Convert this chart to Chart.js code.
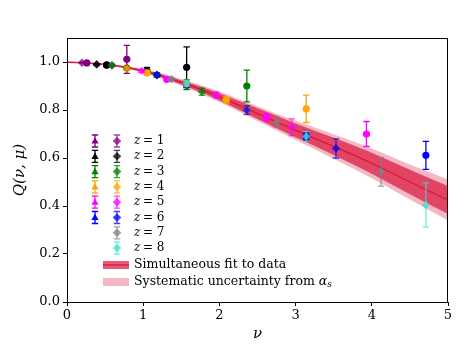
<!DOCTYPE html>
<html>
<head>
<meta charset="utf-8">
<script src="https://cdn.jsdelivr.net/npm/chart.js@4.4.1/dist/chart.umd.min.js"></script>
<style>
  html, body { margin: 0; padding: 0; background: #fff; }
  #wrap { width: 471px; height: 353px; }
</style>
</head>
<body>
<div id="wrap"><canvas id="chart" width="471" height="353"></canvas></div>
<script>
// z separations and their colours
var zValues = [1, 2, 3, 4, 5, 6, 7, 8];
var zColours = ['#800080', '#000000', '#008000', '#FFA500', '#FF00FF', '#0000FF', '#808080', '#40E0D0'];

// first ensemble (circles, triangles in legend), z = 1..6
var nuA = [
	[0.26, 0.52, 0.785],
	[0.52, 1.05, 1.57],
	[0.785, 1.57, 2.36],
	[1.05, 2.09, 3.14],
	[1.31, 2.62, 3.93],
	[1.57, 3.14, 4.71]
];
var qA = [
	[0.996, 0.988, 1.011],
	[0.987, 0.962, 0.978],
	[0.975, 0.905, 0.900],
	[0.955, 0.842, 0.805],
	[0.928, 0.770, 0.700],
	[0.905, 0.690, 0.611]
];
var errA = [
	[0.003, 0.005, 0.058],
	[0.004, 0.015, 0.085],
	[0.006, 0.020, 0.066],
	[0.010, 0.012, 0.057],
	[0.008, 0.015, 0.052],
	[0.010, 0.015, 0.058]
];

// second ensemble (diamonds), z = 1..8
var nuB = [
	[0.196, 0.39, 0.59],
	[0.39, 0.785, 1.18],
	[0.59, 1.18, 1.77],
	[0.785, 1.57, 2.36],
	[0.98, 1.96, 2.95],
	[1.18, 2.36, 3.53],
	[1.37, 2.75, 4.12],
	[1.57, 3.14, 4.71]
];
var qB = [
	[0.997, 0.990, 0.985],
	[0.990, 0.975, 0.946],
	[0.987, 0.947, 0.876],
	[0.974, 0.910, 0.800],
	[0.963, 0.862, 0.728],
	[0.946, 0.800, 0.640],
	[0.928, 0.749, 0.543],
	[0.911, 0.690, 0.404]
];
var errB = [
	[0.002, 0.003, 0.004],
	[0.003, 0.005, 0.008],
	[0.004, 0.008, 0.015],
	[0.006, 0.012, 0.020],
	[0.006, 0.012, 0.035],
	[0.008, 0.018, 0.040],
	[0.008, 0.020, 0.060],
	[0.010, 0.020, 0.092]
];

// fit and bands
var fitNu = [0, 0.5, 1, 1.5, 2, 2.5, 3, 3.5, 4, 4.5, 5];
var fitQ = [1.0, 0.990, 0.963, 0.915, 0.855, 0.785, 0.715, 0.648, 0.578, 0.500, 0.425];
var statHi = [1.0, 0.992, 0.968, 0.924, 0.870, 0.807, 0.744, 0.684, 0.622, 0.551, 0.483];
var statLo = [1.0, 0.988, 0.958, 0.906, 0.840, 0.763, 0.686, 0.612, 0.534, 0.449, 0.367];
var sysHi = [1.0, 0.993, 0.971, 0.929, 0.877, 0.816, 0.755, 0.699, 0.640, 0.573, 0.510];
var sysLo = [1.0, 0.987, 0.955, 0.901, 0.833, 0.754, 0.675, 0.597, 0.516, 0.427, 0.340];

var xTicks = [0, 1, 2, 3, 4, 5];
var yTicks = [0.0, 0.2, 0.4, 0.6, 0.8, 1.0];

var fitColour = '#DC143C';
var statFill = 'rgba(220,20,60,0.7)';
var sysFill = 'rgba(220,20,60,0.3)';
var serif = "'DejaVu Serif', serif";

var withAlpha = function(hex, a) {
	var r = parseInt(hex.substr(1, 2), 16), g = parseInt(hex.substr(3, 2), 16), b = parseInt(hex.substr(5, 2), 16);
	return 'rgba(' + r + ',' + g + ',' + b + ',' + a + ')';
};

var toPoints = function(xs, ys) {
	return xs.map(function(x, i) { return {x: x, y: ys[i]}; });
};

var datasets = [];

// diamonds on top, larger z above smaller z
for (var i = 0; i < nuB.length; i++) {
	datasets.push({
		label: 'B z=' + zValues[i],
		data: toPoints(nuB[i], qB[i]),
		errs: errB[i],
		barColour: withAlpha(zColours[i], 0.75),
		showLine: false,
		pointStyle: 'rectRot',
		pointRadius: 4.2,
		backgroundColor: withAlpha(zColours[i], 0.75),
		borderColor: withAlpha(zColours[i], 0.75),
		borderWidth: 0,
		order: 20 - zValues[i]
	});
}
for (var i = 0; i < nuA.length; i++) {
	datasets.push({
		label: 'A z=' + zValues[i],
		data: toPoints(nuA[i], qA[i]),
		errs: errA[i],
		barColour: zColours[i],
		showLine: false,
		pointStyle: 'circle',
		pointRadius: 3.6,
		backgroundColor: zColours[i],
		borderColor: zColours[i],
		borderWidth: 0,
		order: 30 - zValues[i]
	});
}
var base = datasets.length;
datasets.push({
	label: 'fit', data: toPoints(fitNu, fitQ), showLine: true, pointRadius: 0,
	borderColor: fitColour, borderWidth: 1.3, cubicInterpolationMode: 'monotone', fill: false, order: 40
});
datasets.push({
	label: 'statHi', data: toPoints(fitNu, statHi), showLine: true, pointRadius: 0, borderWidth: 0,
	borderColor: 'rgba(0,0,0,0)', backgroundColor: statFill, cubicInterpolationMode: 'monotone',
	fill: base + 2, order: 50
});
datasets.push({
	label: 'statLo', data: toPoints(fitNu, statLo), showLine: true, pointRadius: 0, borderWidth: 0,
	borderColor: 'rgba(0,0,0,0)', cubicInterpolationMode: 'monotone', fill: false, order: 51
});
datasets.push({
	label: 'sysHi', data: toPoints(fitNu, sysHi), showLine: true, pointRadius: 0, borderWidth: 0,
	borderColor: 'rgba(0,0,0,0)', backgroundColor: sysFill, cubicInterpolationMode: 'monotone',
	fill: base + 4, order: 60
});
datasets.push({
	label: 'sysLo', data: toPoints(fitNu, sysLo), showLine: true, pointRadius: 0, borderWidth: 0,
	borderColor: 'rgba(0,0,0,0)', cubicInterpolationMode: 'monotone', fill: false, order: 61
});

var drawErrBar = function(ctx, x, yTop, yBot, colour, cap) {
	ctx.strokeStyle = colour;
	ctx.lineWidth = 1.3;
	ctx.beginPath();
	ctx.moveTo(x, yTop); ctx.lineTo(x, yBot);
	ctx.moveTo(x - cap, yTop); ctx.lineTo(x + cap, yTop);
	ctx.moveTo(x - cap, yBot); ctx.lineTo(x + cap, yBot);
	ctx.stroke();
};

// error bars drawn just before each marker set
var errorBars = {
	id: 'errorBars',
	beforeDatasetDraw: function(chart, args) {
		var ds = chart.data.datasets[args.index];
		if (!ds.errs) return;
		var ctx = chart.ctx, xs = chart.scales.x, ys = chart.scales.y;
		ctx.save();
		ds.data.forEach(function(p, k) {
			var px = xs.getPixelForValue(p.x);
			drawErrBar(ctx, px, ys.getPixelForValue(p.y + ds.errs[k]), ys.getPixelForValue(p.y - ds.errs[k]), ds.barColour, 3.2);
		});
		ctx.restore();
	}
};

// frame, legend
var decorations = {
	id: 'decorations',
	afterDraw: function(chart) {
		var ctx = chart.ctx, a = chart.chartArea;
		ctx.save();
		ctx.strokeStyle = '#000';
		ctx.lineWidth = 1;
		ctx.strokeRect(a.left + 0.5, a.top + 0.5, a.right - a.left - 1, a.bottom - a.top);

		var rowY = 141, step = 15.3;
		for (var i = 0; i < zValues.length; i++) {
			var y = rowY + i * step;
			if (i < nuA.length) {
				drawErrBar(ctx, 95, y - 6, y + 6, zColours[i], 3.2);
				ctx.fillStyle = zColours[i];
				ctx.beginPath();
				ctx.moveTo(95, y - 3.8); ctx.lineTo(98.6, y + 2.6); ctx.lineTo(91.4, y + 2.6);
				ctx.closePath(); ctx.fill();
			}
			var c = withAlpha(zColours[i], 0.75);
			drawErrBar(ctx, 117, y - 6, y + 6, c, 3.2);
			ctx.fillStyle = c;
			ctx.beginPath();
			ctx.moveTo(117, y - 4.3); ctx.lineTo(121.3, y); ctx.lineTo(117, y + 4.3); ctx.lineTo(112.7, y);
			ctx.closePath(); ctx.fill();

			ctx.fillStyle = '#000';
			ctx.textBaseline = 'middle';
			ctx.font = 'italic 12px ' + serif;
			ctx.fillText('z', 134, y);
			ctx.font = '12px ' + serif;
			ctx.fillText('= ' + zValues[i], 143, y);
		}

		// band entries
		ctx.fillStyle = statFill;
		ctx.fillRect(103, 261, 26, 8);
		ctx.strokeStyle = fitColour; ctx.lineWidth = 1.3;
		ctx.beginPath(); ctx.moveTo(103, 265); ctx.lineTo(129, 265); ctx.stroke();
		ctx.fillStyle = sysFill;
		ctx.fillRect(103, 278, 26, 8);
		ctx.fillStyle = '#000';
		ctx.font = '12.5px ' + serif;
		ctx.textBaseline = 'middle';
		ctx.fillText('Simultaneous fit to data', 134, 265);
		var t = 'Systematic uncertainty from ';
		ctx.fillText(t, 134, 282);
		var w = ctx.measureText(t).width;
		ctx.font = 'italic 12.5px ' + serif;
		ctx.fillText('\u03B1', 134 + w, 282);
		var w2 = ctx.measureText('\u03B1').width;
		ctx.font = 'italic 9px ' + serif;
		ctx.fillText('s', 134 + w + w2, 285);
		ctx.restore();
	}
};

var ctx = document.getElementById('chart').getContext('2d');
window.qChart = new Chart(ctx, {
	type: 'scatter',
	data: { datasets: datasets },
	options: {
		responsive: false,
		animation: false,
		events: [],
		layout: { padding: { top: 38, right: 23, left: 0, bottom: 6 } },
		plugins: {
			legend: { display: false },
			tooltip: { enabled: false }
		},
		scales: {
			x: {
				type: 'linear', min: 0, max: 5,
				afterFit: function(s) { s.height = 45; },
				afterBuildTicks: function(s) { s.ticks = xTicks.map(function(v) { return {value: v}; }); },
				border: { display: false },
				grid: { drawOnChartArea: false, drawTicks: true, tickLength: 4, color: '#000' },
				ticks: { color: '#000', font: { family: serif, size: 13 }, padding: 2, maxRotation: 0,
					callback: function(v) { return v.toString(); } },
				title: { display: true, text: '\u03BD', color: '#000', font: { family: serif, size: 15, style: 'italic' }, padding: { top: 0 } }
			},
			y: {
				type: 'linear', min: 0, max: 1.1,
				afterFit: function(s) { s.width = 67; },
				afterBuildTicks: function(s) { s.ticks = yTicks.map(function(v) { return {value: v}; }); },
				border: { display: false },
				grid: { drawOnChartArea: false, drawTicks: true, tickLength: 4, color: '#000' },
				ticks: { color: '#000', font: { family: serif, size: 13 }, padding: 3,
					callback: function(v) { return v.toFixed(1); } },
				title: { display: true, text: 'Q(\u03BD, \u03BC)', color: '#000', font: { family: serif, size: 15, style: 'italic' }, padding: { top: 11, bottom: 0 } }
			}
		}
	},
	plugins: [errorBars, decorations]
});
</script>
</body>
</html>
